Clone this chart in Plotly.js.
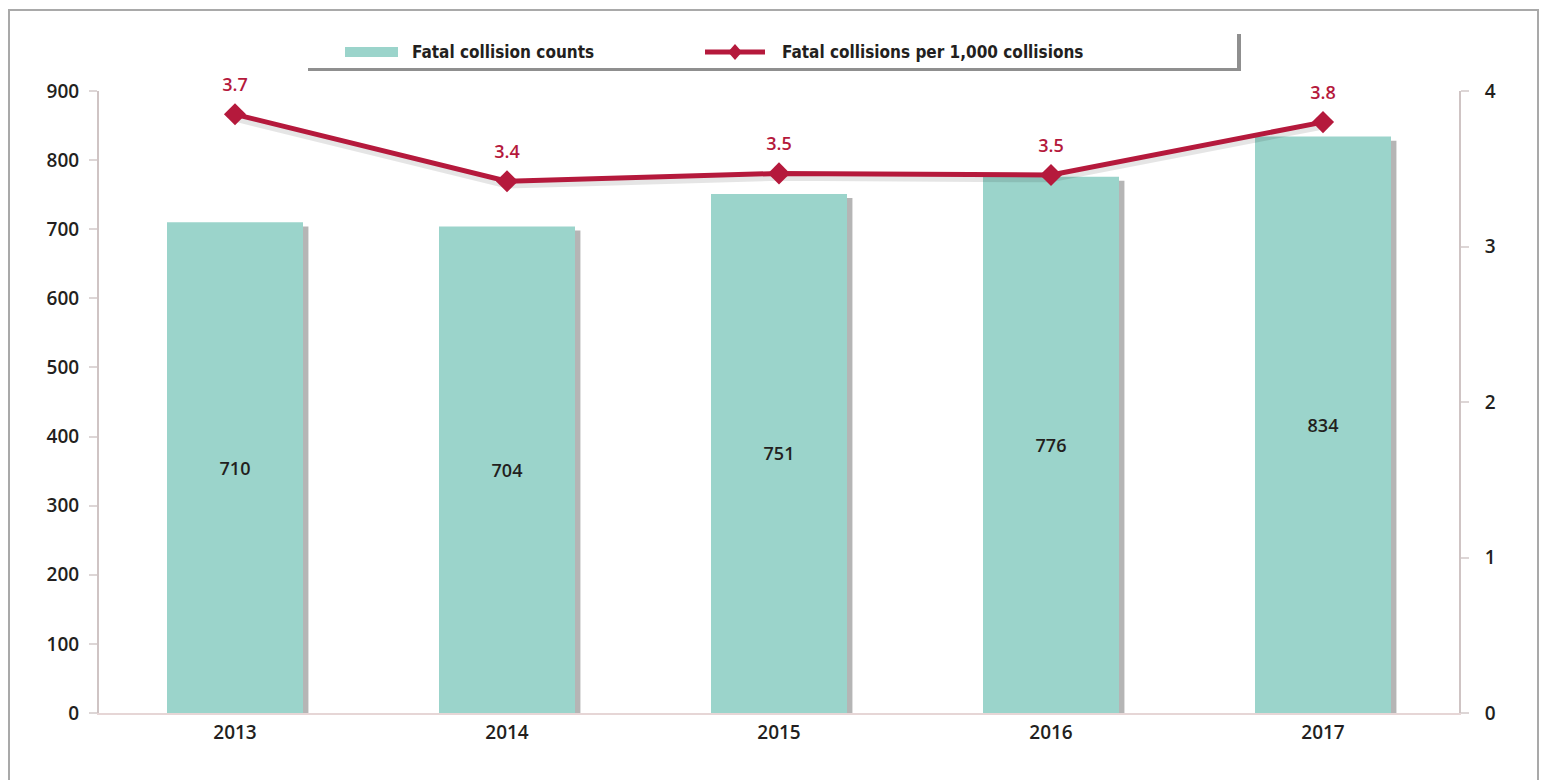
<!DOCTYPE html>
<html>
<head>
<meta charset="utf-8">
<script src="https://cdn.plot.ly/plotly-3.0.1.min.js"></script>
<style>
  html, body { margin: 0; padding: 0; background: #fff; }
  #frame { position: absolute; left: 8px; top: 9px; width: 1531px; height: 800px; border: 2px solid #a9a9a9; box-sizing: border-box; }
  #chart { position: absolute; left: 0; top: 0; width: 1546px; height: 780px; }
</style>
</head>
<body>
<div id="frame"></div>
<div id="chart"></div>
<script>
// ---- data ----
const years = ["2013", "2014", "2015", "2016", "2017"];
const fatalCounts = [710, 704, 751, 776, 834];
const ratePer1000 = [3.85, 3.42, 3.47, 3.46, 3.80];
const rateLabels = ["3.7", "3.4", "3.5", "3.5", "3.8"];
const leftTicks = [0, 100, 200, 300, 400, 500, 600, 700, 800, 900];
const rightTicks = [0, 1, 2, 3, 4];
const legendNames = ["Fatal collision counts", "Fatal collisions per 1,000 collisions"];

const teal = "#9bd4cb";
const red = "#b5193c";
const axisCol = "#cfc4c4";
const fam = "Open Sans, DejaVu Sans, sans-serif";
const tickFont = { family: fam, size: 19, color: "#231f20", weight: 600 };

const barTrace = {
  type: "bar",
  x: years,
  y: fatalCounts,
  width: 0.5,
  marker: { color: teal, line: { width: 0 } },
  text: fatalCounts.map(String),
  textposition: "inside",
  insidetextanchor: "middle",
  textfont: { family: fam, size: 18, color: "#231f20", weight: 600 },
  hoverinfo: "x+y",
  showlegend: false
};

const lineShadow = {
  type: "scatter",
  mode: "lines",
  x: years,
  y: ratePer1000.map(v => v - 0.025),
  yaxis: "y2",
  line: { color: "rgba(0,0,0,0.10)", width: 7 },
  hoverinfo: "skip",
  showlegend: false
};

const lineTrace = {
  type: "scatter",
  mode: "lines+markers",
  x: years,
  y: ratePer1000,
  yaxis: "y2",
  line: { color: red, width: 5 },
  marker: { symbol: "diamond", size: 17, color: red },
  cliponaxis: false,
  showlegend: false
};

// value labels above the points (transparent markers set the text offset)
const labelTrace = {
  type: "scatter",
  mode: "markers+text",
  x: years,
  y: ratePer1000,
  yaxis: "y2",
  marker: { size: 28, color: "rgba(0,0,0,0)" },
  text: rateLabels,
  textposition: "top center",
  textfont: { family: fam, size: 18, color: red, weight: 600 },
  cliponaxis: false,
  hoverinfo: "skip",
  showlegend: false
};

// bar right-edge shadows, positioned through the category axis
const shapes = fatalCounts.map((v, i) => ({
  type: "rect", xref: "x", yref: "y", layer: "below",
  x0: i + 0.25, x1: i + 0.27, y0: 0, y1: v - 6,
  fillcolor: "rgba(90,90,90,0.45)", line: { width: 0 }
}));

const px = v => (v - 99) / 1360;
const py = v => 1 + (91 - v) / 622;

// custom legend box with shadow
shapes.push(
  { type: "rect", xref: "paper", yref: "paper", x0: px(308), x1: px(1241), y0: py(71), y1: py(34),
    fillcolor: "#8f8f8f", line: { width: 0 }, layer: "above" },
  { type: "rect", xref: "paper", yref: "paper", x0: px(303), x1: px(1237), y0: py(68), y1: py(28),
    fillcolor: "#ffffff", line: { width: 0 }, layer: "above" },
  { type: "rect", xref: "paper", yref: "paper", x0: px(345), x1: px(398), y0: py(57), y1: py(47),
    fillcolor: teal, line: { width: 0 }, layer: "above" },
  { type: "line", xref: "paper", yref: "paper", x0: px(705), x1: px(765), y0: py(52), y1: py(52),
    line: { color: red, width: 5 }, layer: "above" },
  { type: "path", xref: "paper", yref: "paper", layer: "above",
    path: (function(){ const cx=px(735), cy=py(52), dx=7/1360, dy=8/622;
      return `M ${cx-dx} ${cy} L ${cx} ${cy+dy} L ${cx+dx} ${cy} L ${cx} ${cy-dy} Z`; })(),
    fillcolor: red, line: { width: 0 } }
);

const legendFont = { family: "Liberation Sans Narrow, DejaVu Sans Condensed, sans-serif", size: 17, color: "#231f20", weight: 700 };
const annotations = [
  { xref: "paper", yref: "paper", x: px(410), y: py(52), xanchor: "left", yanchor: "middle",
    text: legendNames[0], showarrow: false, font: legendFont },
  { xref: "paper", yref: "paper", x: px(780), y: py(52), xanchor: "left", yanchor: "middle",
    text: legendNames[1], showarrow: false, font: legendFont }
];

const layout = {
  width: 1546, height: 780,
  margin: { l: 99, r: 87, t: 91, b: 67, pad: 0 },
  paper_bgcolor: "rgba(0,0,0,0)",
  plot_bgcolor: "rgba(0,0,0,0)",
  showlegend: false,
  bargap: 0.5,
  xaxis: {
    type: "category", range: [-0.5, 4.5],
    showline: true, linecolor: "#e6d6d6", linewidth: 2,
    ticks: "", showgrid: false, zeroline: false,
    tickfont: tickFont, ticklabelstandoff: 1
  },
  yaxis: {
    range: [0, 900], tickvals: leftTicks, ticktext: leftTicks.map(String),
    showline: true, linecolor: axisCol, linewidth: 2,
    ticks: "outside", ticklen: 8, tickcolor: "#ddd6d6", tickwidth: 2,
    showgrid: false, zeroline: false, tickfont: tickFont, ticklabelstandoff: 6
  },
  yaxis2: {
    range: [0, 4], tickvals: rightTicks, ticktext: rightTicks.map(String),
    overlaying: "y", side: "right", anchor: "x",
    showline: true, linecolor: axisCol, linewidth: 2,
    ticks: "outside", ticklen: 8, tickcolor: "#ddd6d6", tickwidth: 2,
    showgrid: false, zeroline: false, tickfont: tickFont, ticklabelstandoff: 12
  },
  shapes: shapes,
  annotations: annotations
};

Plotly.newPlot("chart", [barTrace, lineShadow, lineTrace, labelTrace], layout, { displayModeBar: false, staticPlot: true });
</script>
</body>
</html>
